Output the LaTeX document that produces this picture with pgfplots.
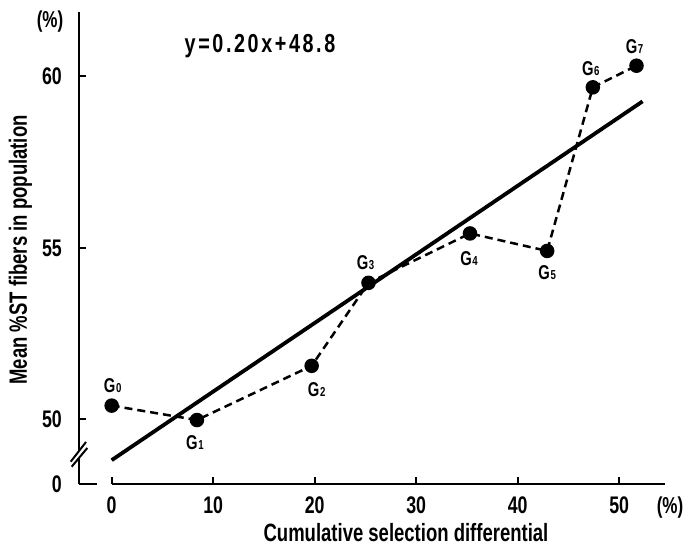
\documentclass[border=0pt]{standalone}
\usepackage{fontspec}
\setmainfont{Liberation Sans}[FakeStretch=0.74, UprightFont=*-Bold]
\newfontfamily\eqfont{Liberation Sans}[FakeStretch=0.76, LetterSpace=10, UprightFont=*-Bold]
\usepackage{pgfplots}
\pgfplotsset{compat=1.18}
\newcommand\gl[1]{G\kern0.6pt{\fontsize{13}{13}\selectfont #1}}
\begin{document}
\begin{tikzpicture}
\begin{axis}[
  scale only axis, width=586pt, height=472pt,
  xmin=-3.22, xmax=54.51, ymin=48.105, ymax=61.866,
  axis lines*=left, axis line style={draw=none},
  xtick={0,10,20,30,40,50}, ytick={50,55,60},
  extra y ticks={48.105}, extra y tick labels={0},
  extra y tick style={major tick length=18pt},
  tick align=inside, major tick length=7pt,
  tick style={line width=2pt, black},
  ticklabel style={font=\fontsize{24}{24}\selectfont, inner sep=0pt},
  xticklabel style={anchor=base, yshift=-29pt},
  yticklabel style={anchor=base east, xshift=-17pt, yshift=-8.6pt},
  /pgf/number format/assume math mode=true,
  clip=false,
]
\coordinate (O) at (rel axis cs:0,0);
% fitted line y = 0.20x + 48.8
\addplot[black, line width=3.8pt, line cap=butt] coordinates {(0,48.8) (52.3,59.26)};
% generations G0..G7
\addplot[black, line width=2.5pt, dash pattern=on 8pt off 5pt,
  mark=*, mark size=6pt, mark options={solid, fill=black}] coordinates {
  (0,50.39) (8.4,49.97) (19.7,51.55) (25.3,53.97)
  (35.3,55.41) (42.9,54.90) (47.4,59.67) (51.7,60.30)};
\begin{scope}[every node/.style={font=\fontsize{20}{20}\selectfont, inner sep=0pt}]
\node[yshift=20pt, xshift=1pt] at (axis cs:0,50.39) {\gl{0}};
\node[yshift=-23pt, xshift=-2pt] at (axis cs:8.4,49.97) {\gl{1}};
\node[yshift=-24pt, xshift=5pt] at (axis cs:19.7,51.55) {\gl{2}};
\node[yshift=20pt, xshift=-3pt] at (axis cs:25.3,53.97) {\gl{3}};
\node[yshift=-25pt, xshift=-1pt] at (axis cs:35.3,55.41) {\gl{4}};
\node[yshift=-22pt, xshift=0pt] at (axis cs:42.9,54.90) {\gl{5}};
\node[yshift=19pt, xshift=-2pt] at (axis cs:47.4,59.67) {\gl{6}};
\node[yshift=19pt, xshift=-2pt] at (axis cs:51.7,60.30) {\gl{7}};
\end{scope}
\end{axis}
\begin{scope}[shift={(O)}]
\path (-79pt,-62pt) rectangle (609pt,484pt);
% y axis with break
\draw[line width=2.2pt] (0pt,472pt) -- (0pt,33pt);
\draw[line width=2.2pt] (0pt,26pt) -- (0pt,0pt);
\draw[line width=2pt] (-8.3pt,22.3pt) -- (7pt,42pt);
\draw[line width=2pt] (-7.3pt,17.3pt) -- (8.3pt,36pt);
% x axis
\draw[line width=2.2pt] (32.7pt,0pt) -- (586pt,0pt);
% texts
\node[font=\fontsize{25}{25}\selectfont, rotate=90, anchor=base] at (-52pt,234pt) {Mean \%ST fibers in population};
\node[font=\fontsize{25}{25}\selectfont, anchor=base] at (327pt,-57.7pt) {Cumulative selection differential};
\node[font=\fontsize{23}{23}\selectfont] at (-29pt,462pt) {(\%)};
\node[font=\fontsize{23}{23}\selectfont, anchor=base] at (591pt,-29pt) {(\%)};
\node[font=\eqfont\fontsize{26}{26}\selectfont] at (181pt,438pt) {y=0.20x+48.8};
\end{scope}
\end{tikzpicture}
\end{document}
